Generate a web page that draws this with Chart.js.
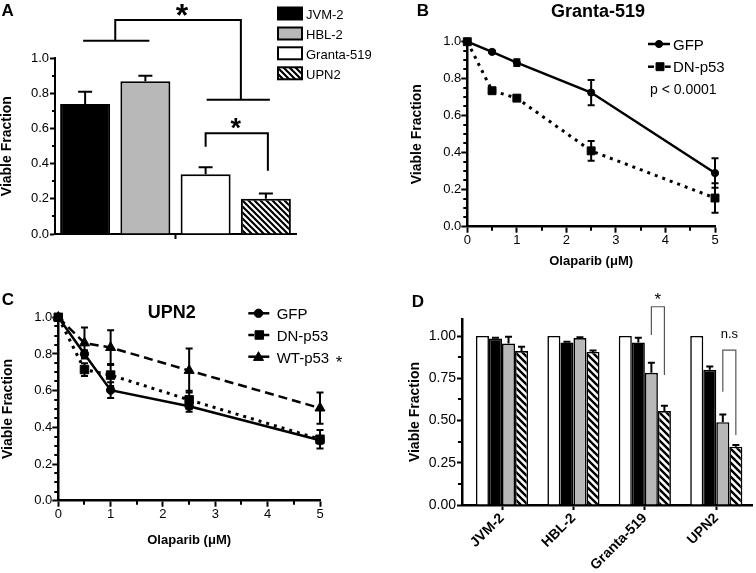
<!DOCTYPE html>
<html>
<head>
<meta charset="utf-8">
<script src="https://cdn.jsdelivr.net/npm/chart.js@4.4.1/dist/chart.umd.min.js"></script>
<style>
html, body { margin: 0; padding: 0; background: #fff; width: 756px; height: 573px; overflow: hidden; }
canvas { position: absolute; }
</style>
</head>
<body>
<canvas id="cA" width="380" height="280" style="left:0px;top:0px;width:380px;height:280px"></canvas>
<canvas id="cB" width="376" height="280" style="left:380px;top:0px;width:376px;height:280px"></canvas>
<canvas id="cC" width="380" height="293" style="left:0px;top:280px;width:380px;height:293px"></canvas>
<canvas id="cD" width="376" height="293" style="left:380px;top:280px;width:376px;height:293px"></canvas>
<script>
// ---------------- DATA ----------------
// Panel A
const aCellLines = ['JVM-2', 'HBL-2', 'Granta-519', 'UPN2'];
const aViable = [0.74, 0.87, 0.34, 0.20];
const aViableErr = [0.07, 0.03, 0.04, 0.03];
const aYTicks = [0, 0.2, 0.4, 0.6, 0.8, 1.0];

// Panel B (Granta-519)
const bDoses = [0, 0.5, 1, 2.5, 5];
const bGfp = [1.0, 0.945, 0.887, 0.725, 0.29];
const bGfpErr = [0, 0.006, 0.018, 0.068, 0.08];
const bDnP53 = [1.0, 0.735, 0.695, 0.41, 0.155];
const bDnP53Err = [0, 0.01, 0.01, 0.053, 0.08];
const bXTicks = [0, 1, 2, 3, 4, 5];
const bYTicks = [0, 0.2, 0.4, 0.6, 0.8, 1.0];

// Panel C (UPN2)
const cDoses = [0, 0.5, 1, 2.5, 5];
const cGfp = [1.0, 0.80, 0.603, 0.515, 0.33];
const cGfpErr = [0, 0.02, 0.043, 0.03, 0.02];
const cDnP53 = [1.0, 0.715, 0.685, 0.55, 0.335];
const cDnP53Err = [0, 0.035, 0.06, 0.05, 0.05];
const cWtP53 = [1.0, 0.86, 0.835, 0.71, 0.505];
const cWtP53Err = [0, 0.085, 0.095, 0.12, 0.085];
const cXTicks = [0, 1, 2, 3, 4, 5];
const cYTicks = [0, 0.2, 0.4, 0.6, 0.8, 1.0];

// Panel D
const dCellLines = ['JVM-2', 'HBL-2', 'Granta-519', 'UPN2'];
const dSeriesNames = ['Condition 1', 'Condition 2', 'Condition 3', 'Condition 4'];
const dWhite = [1.0, 1.0, 1.0, 1.0];
const dWhiteErr = [0, 0, 0, 0];
const dBlack = [0.985, 0.962, 0.962, 0.80];
const dBlackErr = [0.005, 0.004, 0.028, 0.02];
const dGray = [0.955, 0.988, 0.782, 0.49];
const dGrayErr = [0.04, 0.005, 0.06, 0.045];
const dHatch = [0.911, 0.906, 0.556, 0.345];
const dHatchErr = [0.025, 0.008, 0.032, 0.01];
const dYTicks = [0, 0.25, 0.5, 0.75, 1.0];

// ---------------- HELPERS ----------------
const FONT = "'Liberation Sans', Arial, Helvetica, sans-serif";
Chart.defaults.font.family = FONT;
Chart.defaults.color = '#000';

function hatchPattern(s, lw) {
  const c = document.createElement('canvas');
  c.width = s; c.height = s;
  const g = c.getContext('2d');
  g.fillStyle = '#fff'; g.fillRect(0, 0, s, s);
  g.strokeStyle = '#000'; g.lineWidth = lw;
  g.beginPath();
  for (let k = -1; k <= 1; k++) { g.moveTo(k * s - 1, -1); g.lineTo(k * s + s + 1, s + 1); }
  g.stroke();
  return g.createPattern(c, 'repeat');
}

function txt(ctx, str, x, y, size, o) {
  o = o || {};
  ctx.save();
  ctx.font = (o.bold ? 'bold ' : '') + size + 'px ' + FONT;
  ctx.fillStyle = o.color || '#000';
  ctx.textAlign = o.align || 'left';
  ctx.textBaseline = o.baseline || 'alphabetic';
  ctx.fillText(str, x, y);
  ctx.restore();
}
function star(ctx, cx, cy, size, bold) {
  txt(ctx, '*', cx, cy + 0.58 * size, size, { bold: bold, align: 'center' });
}
function poly(ctx, pts) {
  ctx.beginPath();
  pts.forEach((p, i) => i ? ctx.lineTo(p[0], p[1]) : ctx.moveTo(p[0], p[1]));
  ctx.stroke();
}

const errorBarPlugin = {
  id: 'errorBars',
  afterDatasetsDraw(chart) {
    const ctx = chart.ctx, ys = chart.scales.y;
    chart.data.datasets.forEach((ds, i) => {
      if (!ds.errorBars) return;
      const meta = chart.getDatasetMeta(i);
      const st = ds.errorStyle || {};
      ctx.save();
      ctx.strokeStyle = '#000'; ctx.lineWidth = st.width || 2; ctx.lineCap = 'butt';
      meta.data.forEach((el, j) => {
        const e = ds.errorBars[j];
        if (!e) return;
        const raw = ds.data[j];
        const v = (typeof raw === 'object') ? raw.y : raw;
        const x = el.x, half = (st.cap || 8) / 2;
        const top = ys.getPixelForValue(v + e);
        const bot = st.both ? ys.getPixelForValue(v - e) : el.y;
        ctx.beginPath();
        ctx.moveTo(x, bot); ctx.lineTo(x, top);
        ctx.moveTo(x - half, top); ctx.lineTo(x + half, top);
        if (st.both) { ctx.moveTo(x - half, bot); ctx.lineTo(x + half, bot); }
        ctx.stroke();
      });
      ctx.restore();
    });
  }
};

function extras(cfg) {
  return {
    id: 'extras',
    afterDraw(chart) {
      const ctx = chart.ctx, ca = chart.chartArea;
      ctx.save();
      ctx.strokeStyle = '#000'; ctx.lineWidth = 2;
      if (cfg.minorY) {
        const s = chart.scales.y;
        ctx.beginPath();
        cfg.minorY.vals.forEach(v => {
          const p = Math.round(s.getPixelForValue(v));
          ctx.moveTo(ca.left - cfg.minorY.len, p); ctx.lineTo(ca.left, p);
        });
        ctx.stroke();
      }
      if (cfg.minorX) {
        const s = chart.scales.x;
        ctx.beginPath();
        cfg.minorX.vals.forEach(v => {
          const p = Math.round(s.getPixelForValue(v));
          ctx.moveTo(p, ca.bottom); ctx.lineTo(p, ca.bottom + cfg.minorX.len);
        });
        ctx.stroke();
      }
      ctx.restore();
      if (cfg.draw) { ctx.save(); cfg.draw(chart, ctx); ctx.restore(); }
    }
  };
}

function axis(o) {
  const t = { color: '#000', font: { size: o.fs, weight: o.fw || 'normal' }, padding: o.pad,
              autoSkip: false, maxRotation: o.rot || 0, minRotation: o.rot || 0 };
  if (o.cb) t.callback = o.cb;
  return {
    type: o.type || 'linear',
    min: o.min, max: o.max, offset: false,
    afterBuildTicks: o.ticks ? (s => { s.ticks = o.ticks.map(v => ({ value: v })); }) : undefined,
    afterFit: s => { if (o.width != null) s.width = o.width; if (o.height != null) s.height = o.height; },
    grid: { display: true, drawOnChartArea: false, drawTicks: true, offset: false,
            tickLength: o.tickLen, tickWidth: 2, tickColor: '#000' },
    border: { display: true, color: '#000', width: o.bw },
    ticks: t,
    title: o.title ? { display: true, text: o.title, color: '#000',
             font: { size: o.tfs, weight: 'bold' }, padding: o.tpad } : { display: false }
  };
}

const baseOpts = {
  responsive: false, animation: false, devicePixelRatio: 1, events: [],
};
const noPlugins = { legend: { display: false }, tooltip: { enabled: false }, title: { display: false } };

function range(a, b, step) { const r = []; for (let v = a; v <= b + 1e-9; v += step) r.push(+v.toFixed(4)); return r; }
function minorOf(all, majors) { return all.filter(v => !majors.some(m => Math.abs(m - v) < 1e-6)); }

function drawLegendLine(ctx, x0, x1, y, dash, lw) {
  ctx.save(); ctx.strokeStyle = '#000'; ctx.lineWidth = lw;
  if (dash === 'split') {
    poly(ctx, [[x0, y], [x0 + 6, y]]); poly(ctx, [[x1 - 6, y], [x1, y]]);
  } else {
    poly(ctx, [[x0, y], [x1, y]]);
  }
  ctx.restore();
}
function drawMarker(ctx, style, r, x, y) {
  ctx.save(); ctx.fillStyle = '#000'; ctx.strokeStyle = '#000';
  Chart.helpers.drawPoint(ctx, { pointStyle: style, radius: r, borderWidth: 1, rotation: 0 }, x, y);
  ctx.restore();
}

// ---------------- PANEL A ----------------
const patA = hatchPattern(6, 2.2);
const aColors = ['#000000', '#b8b8b8', '#ffffff', patA];
new Chart(document.getElementById('cA'), {
  type: 'bar',
  data: {
    labels: [''],
    datasets: aCellLines.map((name, i) => ({
      label: name, data: [aViable[i]], errorBars: [aViableErr[i]],
      errorStyle: { cap: 14, width: 2 },
      backgroundColor: aColors[i], borderColor: '#000', borderWidth: 2,
      categoryPercentage: 1.0, barPercentage: 0.83
    }))
  },
  options: Object.assign({}, baseOpts, {
    layout: { padding: { left: 0, top: 58.3, right: 84, bottom: 0 } },
    plugins: noPlugins,
    scales: {
      x: Object.assign(axis({ type: 'category', height: 46, tickLen: 5, bw: 2, fs: 13, pad: 2, cb: () => '' }), { offset: true }),
      y: axis({ min: 0, max: 1, ticks: aYTicks, width: 55, tickLen: 5, bw: 2, fs: 13, pad: 1,
                cb: v => v.toFixed(1), title: 'Viable Fraction', tfs: 14, tpad: { top: -1, bottom: 0 } })
    }
  }),
  plugins: [errorBarPlugin, extras({
    minorY: { vals: minorOf(range(0, 1, 0.1), aYTicks), len: 3 },
    draw(chart, ctx) {
      const ys = chart.scales.y;
      const py = v => ys.getPixelForValue(v);
      const c = [0, 1, 2, 3].map(i => chart.getDatasetMeta(i).data[0].x);
      ctx.strokeStyle = '#000'; ctx.lineWidth = 2;
      const m01 = (c[0] + c[1]) / 2, mR = c[3] - 25;
      poly(ctx, [[c[0] - 2, py(1.10)], [c[1] + 4, py(1.10)]]);
      poly(ctx, [[m01, py(1.10)], [m01, py(1.218)], [mR, py(1.218)], [mR, py(0.764)]]);
      poly(ctx, [[c[2] + 1, py(0.764)], [c[3] + 4, py(0.764)]]);
      poly(ctx, [[c[2], py(0.497)], [c[2], py(0.573)], [c[3] + 2, py(0.573)], [c[3] + 2, py(0.36)]]);
      star(ctx, (m01 + mR) / 2 + 4, py(1.292), 32, true);
      star(ctx, (c[2] + c[3]) / 2, py(0.639), 27, true);
      txt(ctx, 'A', 1.5, 15.5, 17, { bold: true });
      // legend
      const rows = [13.5, 33.5, 53.3, 73.3];
      chart.data.datasets.forEach((ds, i) => {
        ctx.fillStyle = ds.backgroundColor;
        ctx.fillRect(278, rows[i] - 6, 24, 12);
        ctx.lineWidth = 2; ctx.strokeStyle = '#000';
        ctx.strokeRect(278, rows[i] - 6, 24, 12);
        txt(ctx, ds.label, 306, rows[i] + 5.8, 13);
      });
    }
  })]
});

// ---------------- PANEL B ----------------
new Chart(document.getElementById('cB'), {
  type: 'line',
  data: {
    datasets: [
      { label: 'GFP', data: bDoses.map((d, i) => ({ x: d, y: bGfp[i] })), errorBars: bGfpErr,
        errorStyle: { both: true, cap: 7, width: 2 },
        borderColor: '#000', backgroundColor: '#000', borderWidth: 2.5, tension: 0, clip: false,
        pointStyle: 'circle', pointRadius: 3.6, pointBackgroundColor: '#000', pointBorderColor: '#000', pointBorderWidth: 1 },
      { label: 'DN-p53', data: bDoses.map((d, i) => ({ x: d, y: bDnP53[i] })), errorBars: bDnP53Err,
        errorStyle: { both: true, cap: 7, width: 2 },
        borderColor: '#000', backgroundColor: '#000', borderWidth: 3, borderDash: [3, 5], tension: 0, clip: false,
        pointStyle: 'rect', pointRadius: 5.6, pointBackgroundColor: '#000', pointBorderColor: '#000', pointBorderWidth: 1 }
    ]
  },
  options: Object.assign({}, baseOpts, {
    layout: { padding: { left: 0, top: 41.7, right: 41, bottom: 0 } },
    plugins: noPlugins,
    scales: {
      x: axis({ min: 0, max: 5, ticks: bXTicks, height: 53.3, tickLen: 6, bw: 2.5, fs: 13, pad: 0,
                cb: v => String(v), title: 'Olaparib (\u03BCM)', tfs: 13, tpad: { top: 0, bottom: 10.5 } }),
      y: axis({ min: 0, max: 1, ticks: bYTicks, width: 87.3, tickLen: 6, bw: 2.5, fs: 13, pad: 0,
                cb: v => v.toFixed(1), title: 'Viable Fraction', tfs: 14, tpad: { top: 28.6, bottom: 0 } })
    }
  }),
  plugins: [errorBarPlugin, extras({
    minorY: { vals: minorOf(range(0, 1, 0.05), bYTicks), len: 4 },
    minorX: { vals: [0.5, 1.5, 2.5, 3.5, 4.5], len: 4 },
    draw(chart, ctx) {
      txt(ctx, 'B', 36.7, 16, 17, { bold: true });
      txt(ctx, 'Granta-519', 218, 17, 18, { bold: true, align: 'center' });
      const ds = chart.data.datasets;
      drawLegendLine(ctx, 268, 290, 44, 'solid', 2.5);
      drawMarker(ctx, 'circle', 3.6, 279, 44);
      txt(ctx, ds[0].label, 293, 49.5, 15);
      drawLegendLine(ctx, 268, 290.7, 66.7, 'split', 2.5);
      drawMarker(ctx, 'rect', 5.6, 280, 66.7);
      txt(ctx, ds[1].label, 293, 71.7, 15);
      txt(ctx, 'p < 0.0001', 270, 94, 14);
    }
  })]
});

// ---------------- PANEL C ----------------
new Chart(document.getElementById('cC'), {
  type: 'line',
  data: {
    datasets: [
      { label: 'GFP', data: cDoses.map((d, i) => ({ x: d, y: cGfp[i] })), errorBars: cGfpErr,
        errorStyle: { both: true, cap: 7, width: 2 },
        borderColor: '#000', backgroundColor: '#000', borderWidth: 2.5, tension: 0, clip: false,
        pointStyle: 'circle', pointRadius: 4.2, pointBackgroundColor: '#000', pointBorderColor: '#000', pointBorderWidth: 1 },
      { label: 'DN-p53', data: cDoses.map((d, i) => ({ x: d, y: cDnP53[i] })), errorBars: cDnP53Err,
        errorStyle: { both: true, cap: 7, width: 2 },
        borderColor: '#000', backgroundColor: '#000', borderWidth: 3, borderDash: [3, 5], tension: 0, clip: false,
        pointStyle: 'rect', pointRadius: 6, pointBackgroundColor: '#000', pointBorderColor: '#000', pointBorderWidth: 1 },
      { label: 'WT-p53', data: cDoses.map((d, i) => ({ x: d, y: cWtP53[i] })), errorBars: cWtP53Err,
        errorStyle: { both: true, cap: 7, width: 2 },
        borderColor: '#000', backgroundColor: '#000', borderWidth: 2.5, borderDash: [9, 5], tension: 0, clip: false,
        pointStyle: 'triangle', pointRadius: 5.8, pointBackgroundColor: '#000', pointBorderColor: '#000', pointBorderWidth: 1 }
    ]
  },
  options: Object.assign({}, baseOpts, {
    layout: { padding: { left: 0, top: 37.3, right: 60, bottom: 0 } },
    plugins: noPlugins,
    scales: {
      x: axis({ min: 0, max: 5, ticks: cXTicks, height: 72.3, tickLen: 6, bw: 2.5, fs: 13, pad: 0,
                cb: v => String(v), title: 'Olaparib (\u03BCM)', tfs: 13, tpad: { top: 0, bottom: 25.2 } }),
      y: axis({ min: 0, max: 1, ticks: cYTicks, width: 58.3, tickLen: 6, bw: 2.5, fs: 13, pad: 0,
                cb: v => v.toFixed(1), title: 'Viable Fraction', tfs: 14, tpad: { top: -0.7, bottom: 0 } })
    }
  }),
  plugins: [errorBarPlugin, extras({
    minorY: { vals: minorOf(range(0, 1, 0.05), cYTicks), len: 4 },
    minorX: { vals: [0.5, 1.5, 2.5, 3.5, 4.5], len: 4 },
    draw(chart, ctx) {
      txt(ctx, 'C', 1.7, 25, 17, { bold: true });
      txt(ctx, 'UPN2', 171.7, 38.3, 18, { bold: true, align: 'center' });
      const ds = chart.data.datasets;
      drawLegendLine(ctx, 248.3, 269.3, 33.3, 'solid', 2.5);
      drawMarker(ctx, 'circle', 4.2, 258.5, 33.3);
      txt(ctx, ds[0].label, 276.7, 39.3, 15);
      drawLegendLine(ctx, 248.3, 269.3, 55, 'split', 2.5);
      drawMarker(ctx, 'rect', 6, 259.3, 55);
      txt(ctx, ds[1].label, 276.7, 61, 15);
      drawLegendLine(ctx, 248.3, 269.3, 76.7, 'solid', 2.5);
      drawMarker(ctx, 'triangle', 5.8, 258.5, 77.5);
      txt(ctx, ds[2].label, 276.7, 82.7, 15);
      star(ctx, 339, 78.3, 17, false);
    }
  })]
});

// ---------------- PANEL D ----------------
const patD = hatchPattern(7, 2.4);
const dColors = ['#ffffff', '#000000', '#b8b8b8', patD];
const dValues = [dWhite, dBlack, dGray, dHatch];
const dErrors = [dWhiteErr, dBlackErr, dGrayErr, dHatchErr];
new Chart(document.getElementById('cD'), {
  type: 'bar',
  data: {
    datasets: dValues.map((vals, i) => ({
      label: dSeriesNames[i],
      data: vals.map((v, j) => ({ x: j, y: v })),
      errorBars: dErrors[i], errorStyle: { cap: 7, width: 2 },
      backgroundColor: dColors[i], borderColor: '#000', borderWidth: 1.6,
      categoryPercentage: 0.73, barPercentage: 1.0
    }))
  },
  options: Object.assign({}, baseOpts, {
    layout: { padding: { left: 0, top: 39.1, right: 4, bottom: 0 } },
    plugins: noPlugins,
    scales: {
      x: axis({ min: -0.56, max: 3.5, ticks: [0, 1, 2, 3], height: 68, tickLen: 5, bw: 2.5, fs: 14, fw: 'bold', pad: 0, rot: 45,
                cb: v => dCellLines[Math.round(v)] }),
      y: axis({ min: 0, max: 1.1, ticks: dYTicks, width: 82, tickLen: 5, bw: 2.5, fs: 14, pad: 1,
                cb: v => v.toFixed(2), title: 'Viable Fraction', tfs: 14, tpad: { top: 26.3, bottom: 0 } })
    }
  }),
  plugins: [errorBarPlugin, extras({
    minorY: { vals: [0.125, 0.375, 0.625, 0.875], len: 4 },
    draw(chart, ctx) {
      const ys = chart.scales.y;
      const py = v => ys.getPixelForValue(v);
      const g = j => chart.getDatasetMeta(2).data[j].x;
      const h = j => chart.getDatasetMeta(3).data[j].x;
      txt(ctx, 'D', 31.7, 26.7, 17, { bold: true });
      ctx.strokeStyle = '#555'; ctx.lineWidth = 1.2;
      poly(ctx, [[g(2), py(1.006)], [g(2), py(1.173)], [h(2), py(1.173)], [h(2), py(0.769)]]);
      poly(ctx, [[g(3), py(0.67)], [g(3), py(0.917)], [h(3), py(0.917)], [h(3), py(0.414)]]);
      star(ctx, (g(2) + h(2)) / 2, py(1.24), 17, false);
      txt(ctx, 'n.s', (g(3) + h(3)) / 2, py(0.988), 13, { align: 'center' });
    }
  })]
});
</script>
</body>
</html>
